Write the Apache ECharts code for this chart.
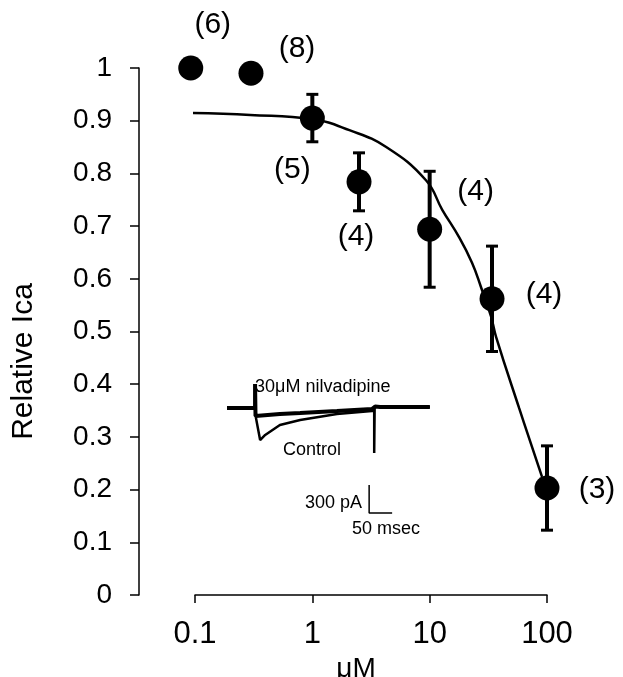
<!DOCTYPE html>
<html>
<head>
<meta charset="utf-8">
<script src="https://cdn.jsdelivr.net/npm/echarts@6/dist/echarts.min.js"></script>
<style>html,body{margin:0;background:#fff}#box{width:623px;height:677px}</style>
</head>
<body>
<div id="box"></div>
<script>
// dose-response data (μM, relative Ica)
var conc = [0.092, 0.3, 1, 2.5, 10, 34, 100];
var relIca = [1.0, 0.99, 0.905, 0.784, 0.694, 0.562, 0.203];
var sem = [0, 0, 0.045, 0.055, 0.11, 0.1, 0.08];
var nCells = [6, 8, 5, 4, 4, 4, 3];

// fitted curve
var fitConc = [0.083, 0.296, 1, 2.07, 4.26, 9.3, 12.8, 17.8, 23.0, 27.4, 33.4, 36.8, 57.8, 90.7];
var fitIca = [0.915, 0.911, 0.903, 0.882, 0.850, 0.787, 0.731, 0.679, 0.630, 0.584, 0.528, 0.490, 0.355, 0.224];

// inset current traces (ms, pA)
var nilvTrace = [[0, 0], [61, 0], [61, 257], [62, -86], [115, -64], [159, -54], [239, -32], [315, -11], [322, 15], [333, 11], [441, 11]];
var controlTrace = [[61, 0], [63, -107], [72, -343], [83, -289], [115, -182], [159, -129], [239, -64], [315, -32], [320, -32], [320, -482], [321, 18], [333, 11], [441, 11]];
var scaleBar = [[309, -825], [309, -1125], [359, -1125]];

var chart = echarts.init(document.getElementById('box'));

// where each (n) label sits relative to its dot
var labelOffsets = [[22, -43], [46, -25], [-20, 52], [-3, 55], [46, -38], [52, -4], [50, 2]];

var points = conc.map(function (c, i) {
    return {
        value: [c, relIca[i]],
        label: { offset: labelOffsets[i] }
    };
});
var errData = [];
conc.forEach(function (c, i) {
    if (sem[i] > 0) errData.push([c, relIca[i] - sem[i], relIca[i] + sem[i]]);
});
var fitData = fitConc.map(function (c, i) { return [c, fitIca[i]]; });

var font = 'Liberation Sans, Arial, sans-serif';

var option = {
    backgroundColor: '#fff',
    animation: false,
    grid: [
        { left: 195, right: 76, top: 68, bottom: 82, outerBoundsMode: 'none' },
        { left: 227, top: 380, width: 207, height: 140, outerBoundsMode: 'none' }
    ],
    xAxis: [
        {
            type: 'log',
            logBase: 10,
            min: 0.1,
            max: 100,
            gridIndex: 0,
            name: 'μM',
            nameLocation: 'middle',
            nameGap: 41,
            nameTextStyle: { color: '#000', fontSize: 28, fontFamily: font, padding: [0, 30, 0, 0] },
            axisLine: { lineStyle: { color: '#000', width: 1.5 } },
            axisTick: { length: 8, lineStyle: { color: '#000', width: 1.5 } },
            minorTick: { show: false },
            splitLine: { show: false },
            axisLabel: { color: '#000', fontSize: 31, fontFamily: font, margin: 24 }
        },
        { type: 'value', gridIndex: 1, min: 0, max: 450, show: false }
    ],
    yAxis: [
        {
            type: 'value',
            gridIndex: 0,
            min: 0,
            max: 1,
            interval: 0.1,
            offset: 56,
            name: 'Relative Ica',
            nameLocation: 'middle',
            nameGap: 100,
            nameTextStyle: { color: '#000', fontSize: 30, fontFamily: font, padding: [0, 60, 0, 0] },
            axisLine: { show: true, lineStyle: { color: '#000', width: 1.5 } },
            axisTick: { show: true, length: 9, lineStyle: { color: '#000', width: 1.5 } },
            splitLine: { show: false },
            axisLabel: { color: '#000', fontSize: 28, fontFamily: font, margin: 27 }
        },
        { type: 'value', gridIndex: 1, min: -1200, max: 300, show: false }
    ],
    series: [
        {
            type: 'line',
            data: fitData,
            smooth: 0.45,
            symbol: 'none',
            clip: false,
            lineStyle: { color: '#000', width: 2.5 }
        },
        {
            type: 'custom',
            data: errData,
            clip: false,
            renderItem: function (params, api) {
                var lo = api.coord([api.value(0), api.value(1)]);
                var hi = api.coord([api.value(0), api.value(2)]);
                var st = { stroke: '#000', lineWidth: 4 };
                var cap = { stroke: '#000', lineWidth: 3 };
                return {
                    type: 'group',
                    children: [
                        { type: 'line', shape: { x1: lo[0], y1: lo[1], x2: hi[0], y2: hi[1] }, style: st },
                        { type: 'line', shape: { x1: lo[0] - 6, y1: lo[1], x2: lo[0] + 6, y2: lo[1] }, style: cap },
                        { type: 'line', shape: { x1: hi[0] - 6, y1: hi[1], x2: hi[0] + 6, y2: hi[1] }, style: cap }
                    ]
                };
            }
        },
        {
            type: 'scatter',
            data: points,
            symbolSize: 25,
            clip: false,
            itemStyle: { color: '#000', opacity: 1 },
            label: {
                show: true,
                position: 'inside',
                color: '#000',
                fontSize: 30,
                fontFamily: font,
                formatter: function (p) { return '(' + nCells[p.dataIndex] + ')'; }
            },
            z: 5
        },
        {
            type: 'line', xAxisIndex: 1, yAxisIndex: 1, data: controlTrace,
            symbol: 'none', lineStyle: { color: '#000', width: 2.5 }
        },
        {
            type: 'line', xAxisIndex: 1, yAxisIndex: 1, data: nilvTrace,
            symbol: 'none', lineStyle: { color: '#000', width: 4 }
        },
        {
            type: 'line', xAxisIndex: 1, yAxisIndex: 1, data: scaleBar,
            symbol: 'none', lineStyle: { color: '#000', width: 1.5 }
        }
    ],
    graphic: [
        { type: 'text', left: 255, top: 378, style: { text: '30μM nilvadipine', fontSize: 18, fontFamily: font, fill: '#000' } },
        { type: 'text', left: 283, top: 441, style: { text: 'Control', fontSize: 18, fontFamily: font, fill: '#000' } },
        { type: 'text', left: 305, top: 494, style: { text: '300 pA', fontSize: 18, fontFamily: font, fill: '#000' } },
        { type: 'text', left: 352, top: 520, style: { text: '50 msec', fontSize: 18, fontFamily: font, fill: '#000' } }
    ]
};
chart.setOption(option);
</script>
</body>
</html>
